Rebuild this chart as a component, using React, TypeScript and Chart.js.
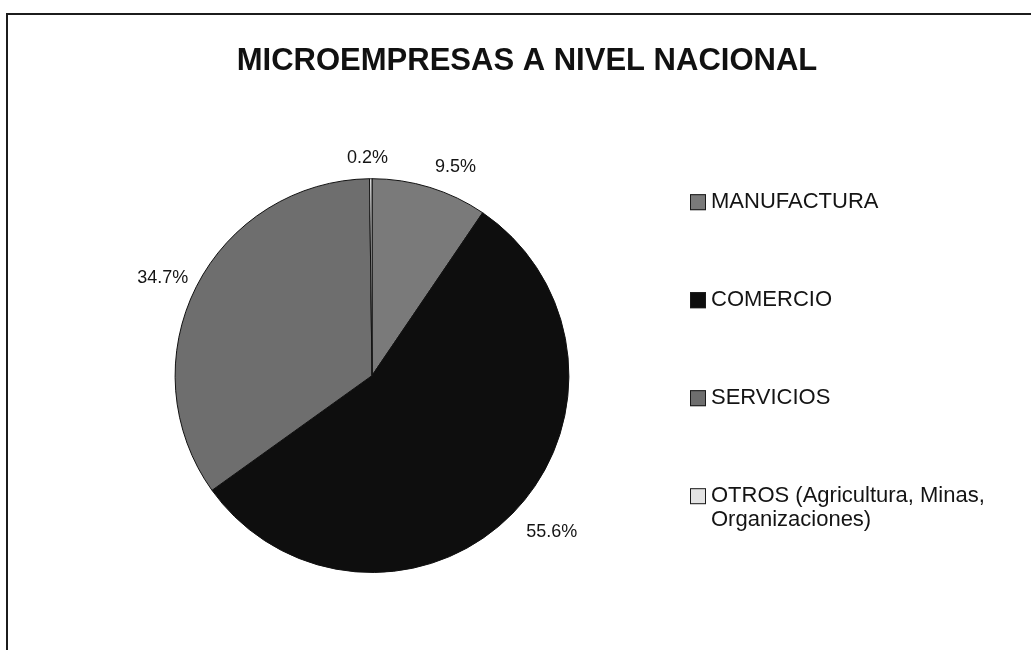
import React, { useEffect, useRef } from 'react';
import { Chart, registerables, layouts } from 'chart.js';

Chart.register(...registerables);

const FONT = "'Liberation Sans', Arial, sans-serif";

const TITLE = 'MICROEMPRESAS A NIVEL NACIONAL';
const categories = ['MANUFACTURA', 'COMERCIO', 'SERVICIOS', 'OTROS (Agricultura, Minas, Organizaciones)'];
const shares = [9.5, 55.6, 34.7, 0.2];
const sliceColors = ['#7a7a7a', '#0e0e0e', '#6e6e6e', '#e4e4e4'];

function wrapText(ctx: CanvasRenderingContext2D, text: string, maxWidth: number): string[] {
  const words = text.split(' ');
  const lines: string[] = [];
  let cur = '';
  for (const w of words) {
    const test = cur ? cur + ' ' + w : w;
    if (cur && ctx.measureText(test).width > maxWidth) {
      lines.push(cur);
      cur = w;
    } else {
      cur = test;
    }
  }
  if (cur) lines.push(cur);
  return lines;
}

const sideLegend = {
  id: 'sideLegend',
  beforeInit(chart: any) {
    const box: any = {
      position: 'right',
      weight: 10,
      fullSize: false,
      options: { stackWeight: 1 },
      left: 0, top: 0, right: 0, bottom: 0, width: 0, height: 0,
      isHorizontal() { return false; },
      update(_maxWidth: number, maxHeight: number) {
        const o = chart.options.plugins.sideLegend;
        this.width = o.boxWidth;
        this.height = maxHeight;
      },
      draw() {
        const o = chart.options.plugins.sideLegend;
        const ctx: CanvasRenderingContext2D = chart.ctx;
        const area = chart.chartArea;
        const x0 = this.left + o.offsetX;
        const colors = chart.data.datasets[0].backgroundColor;
        ctx.save();
        ctx.font = `${o.fontSize}px ${FONT}`;
        ctx.textAlign = 'left';
        ctx.textBaseline = 'middle';
        chart.data.labels.forEach((label: string, i: number) => {
          const y = area.top + o.firstY + i * o.gap;
          ctx.fillStyle = colors[i];
          ctx.fillRect(x0, y - o.square / 2, o.square, o.square);
          ctx.strokeStyle = '#1a1a1a';
          ctx.lineWidth = 1;
          ctx.strokeRect(x0 + 0.5, y - o.square / 2 + 0.5, o.square - 1, o.square - 1);
          ctx.fillStyle = '#141414';
          const lines = wrapText(ctx, label, o.maxTextWidth);
          lines.forEach((t, j) => ctx.fillText(t, x0 + o.square + 5, y + j * o.lineGap));
        });
        ctx.restore();
      },
    };
    layouts.addBox(chart, box);
  },
};

const outsideLabels = {
  id: 'outsideLabels',
  afterDatasetsDraw(chart: any, _args: any, opts: any) {
    const meta = chart.getDatasetMeta(0);
    const ctx: CanvasRenderingContext2D = chart.ctx;
    const values = chart.data.datasets[0].data;
    ctx.save();
    ctx.font = `${opts.fontSize}px ${FONT}`;
    ctx.fillStyle = '#141414';
    ctx.textAlign = 'center';
    ctx.textBaseline = 'middle';
    meta.data.forEach((arc: any, i: number) => {
      const { x, y, startAngle, endAngle, outerRadius } = arc.getProps(['x', 'y', 'startAngle', 'endAngle', 'outerRadius'], true);
      const mid = (startAngle + endAngle) / 2;
      const dx = Math.cos(mid);
      const dy = Math.sin(mid);
      const text = Number(values[i]).toFixed(1) + '%';
      const w = ctx.measureText(text).width;
      const h = opts.fontSize;
      const r = outerRadius + opts.gap;
      const n = opts.nudges[i] || [0, 0];
      ctx.fillText(text, x + dx * r + (dx * w) / 2 + n[0], y + dy * r + (dy * h) / 2 + n[1]);
    });
    ctx.restore();
  },
};

export default function App() {
  const ref = useRef<HTMLCanvasElement | null>(null);

  useEffect(() => {
    if (!ref.current) return;
    const chart = new Chart(ref.current, {
      type: 'pie',
      data: {
        labels: categories,
        datasets: [
          {
            data: shares,
            backgroundColor: sliceColors,
            borderColor: '#111111',
            borderWidth: 1,
          },
        ],
      },
      plugins: [sideLegend, outsideLabels],
      options: {
        animation: false,
        responsive: false,
        devicePixelRatio: 1,
        events: [],
        layout: { padding: { left: 23, right: 0, top: 0, bottom: 77 } },
        plugins: {
          legend: { display: false },
          tooltip: { enabled: false },
          title: {
            display: true,
            text: TITLE,
            color: '#111111',
            font: { family: FONT, size: 31, weight: 'bold' },
            padding: { top: 43, bottom: 98 },
          },
          sideLegend: {
            boxWidth: 310,
            offsetX: -31,
            firstY: 24,
            gap: 98,
            square: 16,
            fontSize: 22,
            lineGap: 24,
            maxTextWidth: 300,
          },
          outsideLabels: {
            fontSize: 18,
            gap: 12,
            nudges: [[16, 0], [12, 4], [0, 1], [-3, 0]],
          },
        } as any,
      },
    });
    return () => chart.destroy();
  }, []);

  return (
    <div style={{ position: 'fixed', left: 0, top: 0, width: 1031, height: 650, background: '#ffffff', overflow: 'hidden' }}>
      <div
        style={{
          position: 'absolute',
          left: 6,
          top: 13,
          width: 1100,
          height: 700,
          borderTop: '2px solid #1c1c1c',
          borderLeft: '2px solid #1c1c1c',
        }}
      />
      <canvas ref={ref} width={1031} height={650} style={{ position: 'absolute', left: 0, top: 0, width: 1031, height: 650 }} />
    </div>
  );
}
